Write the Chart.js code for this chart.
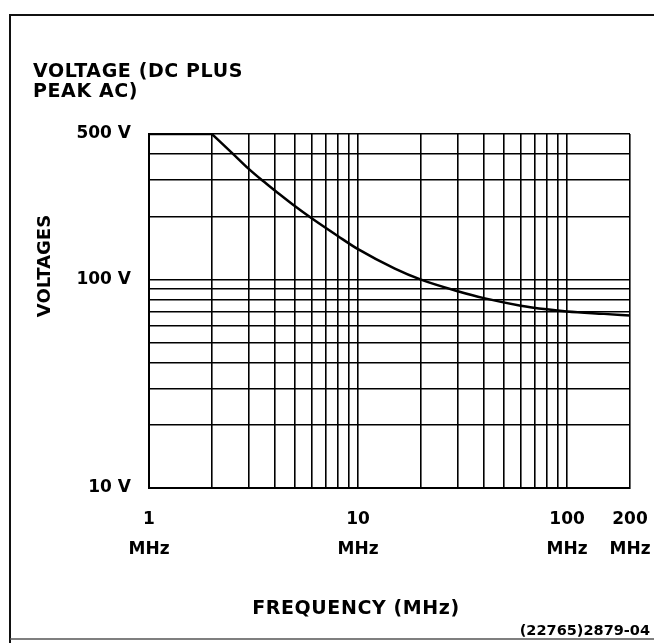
<!DOCTYPE html>
<html>
<head>
<meta charset="utf-8">
<script src="https://cdn.jsdelivr.net/npm/chart.js@4/dist/chart.umd.min.js"></script>
<style>
  html, body { margin: 0; padding: 0; background: #fff; }
  canvas { display: block; }
</style>
</head>
<body>
<canvas id="c" width="654" height="643"></canvas>
<script>
// ---- data ----
const freqMHz = [2, 2.5, 3, 3.5, 4, 5, 6, 8, 10, 15, 20, 30, 40, 60, 80, 100, 150, 200];
const voltage = [500, 405, 340, 298, 268, 225, 197, 162, 140, 113, 100, 88, 81.5, 75, 72, 70.3, 68.5, 67.3];
const flatFreq = [1, 2];
const flatVoltage = [500, 500];

const xGridValues = [1, 2, 3, 4, 5, 6, 7, 8, 9, 10, 20, 30, 40, 50, 60, 70, 80, 90, 100, 200];
const xTickLabels = { 1: ["1", "MHz"], 10: ["10", "MHz"], 100: ["100", "MHz"], 200: ["200", "MHz"] };
const yGridValues = [10, 20, 30, 40, 50, 60, 70, 80, 90, 100, 200, 300, 400, 500];
const yTickLabels = { 10: "10 V", 100: "100 V", 500: "500 V" };

const titleLines = ["VOLTAGE (DC PLUS", "PEAK AC)"];
const yAxisTitle = "VOLTAGES";
const xAxisTitle = "FREQUENCY (MHz)";
const figureCode = "(22765)2879-04";

const FONT = '"DejaVu Sans", "Liberation Sans", sans-serif';

const textPlugin = {
  id: 'texts',
  afterDraw(chart) {
    const ctx = chart.ctx;
    ctx.save();
    ctx.fillStyle = '#000';
    // outer frame
    ctx.strokeStyle = '#111';
    ctx.lineWidth = 2;
    ctx.beginPath();
    ctx.moveTo(10, 643);
    ctx.lineTo(10, 15);
    ctx.lineTo(654, 15);
    ctx.stroke();
    ctx.strokeStyle = '#555';
    ctx.lineWidth = 1.5;
    ctx.beginPath();
    ctx.moveTo(10, 639);
    ctx.lineTo(654, 639);
    ctx.stroke();

    ctx.font = 'bold 19px ' + FONT;
    try { ctx.letterSpacing = '0.6px'; } catch (e) {}
    ctx.textAlign = 'left';
    ctx.textBaseline = 'alphabetic';
    ctx.fillText(titleLines[0], 33, 77);
    ctx.fillText(titleLines[1], 33, 97);
    try { ctx.letterSpacing = '0px'; } catch (e) {}

    ctx.save();
    ctx.translate(50, 266);
    ctx.rotate(-Math.PI / 2);
    ctx.font = 'bold 18px ' + FONT;
    ctx.textAlign = 'center';
    ctx.textBaseline = 'alphabetic';
    ctx.fillText(yAxisTitle, 0, 0);
    ctx.restore();

    ctx.font = 'bold 19px ' + FONT;
    try { ctx.letterSpacing = '0.6px'; } catch (e) {}
    ctx.textAlign = 'center';
    ctx.textBaseline = 'middle';
    ctx.fillText(xAxisTitle, 356, 609);
    try { ctx.letterSpacing = '0px'; } catch (e) {}

    ctx.font = 'bold 14.5px ' + FONT;
    ctx.textAlign = 'right';
    ctx.fillText(figureCode, 650, 631);
    ctx.restore();
  }
};

new Chart(document.getElementById('c'), {
  type: 'line',
  data: {
    datasets: [
      {
        data: flatFreq.map((f, i) => ({ x: f, y: flatVoltage[i] })),
        borderColor: '#000', borderWidth: 2.5, pointRadius: 0, tension: 0
      },
      {
        data: freqMHz.map((f, i) => ({ x: f, y: voltage[i] })),
        borderColor: '#000', borderWidth: 2.5, pointRadius: 0,
        cubicInterpolationMode: 'monotone'
      }
    ]
  },
  options: {
    responsive: false,
    devicePixelRatio: 1,
    animation: false,
    events: [],
    layout: { padding: { left: 0, top: 134, right: 24, bottom: 0 } },
    plugins: { legend: { display: false }, tooltip: { enabled: false }, title: { display: false } },
    scales: {
      x: {
        type: 'logarithmic', min: 1, max: 200, position: 'bottom',
        afterBuildTicks: s => { s.ticks = xGridValues.map(v => ({ value: v })); },
        afterFit: s => { s.height = 643 - 488; s.paddingLeft = 0; s.paddingRight = 0; },
        ticks: {
          autoSkip: false, maxRotation: 0, minRotation: 0, padding: 16, color: '#000',
          font: { family: FONT, size: 17, weight: 'bold', lineHeight: 1.8 },
          callback: (v) => xTickLabels[v] || ''
        },
        grid: { color: '#000', lineWidth: 1.6, drawTicks: false },
        border: { color: '#000', width: 2 }
      },
      y: {
        type: 'logarithmic', min: 10, max: 500, position: 'left',
        afterBuildTicks: s => { s.ticks = yGridValues.map(v => ({ value: v })); },
        afterFit: s => { s.width = 149; s.paddingTop = 0; s.paddingBottom = 0; },
        ticks: {
          autoSkip: false, padding: 18, color: '#000',
          font: { family: FONT, size: 17, weight: 'bold' },
          callback: (v) => yTickLabels[v] || ''
        },
        grid: { color: '#000', lineWidth: 1.6, drawTicks: false },
        border: { color: '#000', width: 2 }
      }
    }
  },
  plugins: [textPlugin]
});
</script>
</body>
</html>
